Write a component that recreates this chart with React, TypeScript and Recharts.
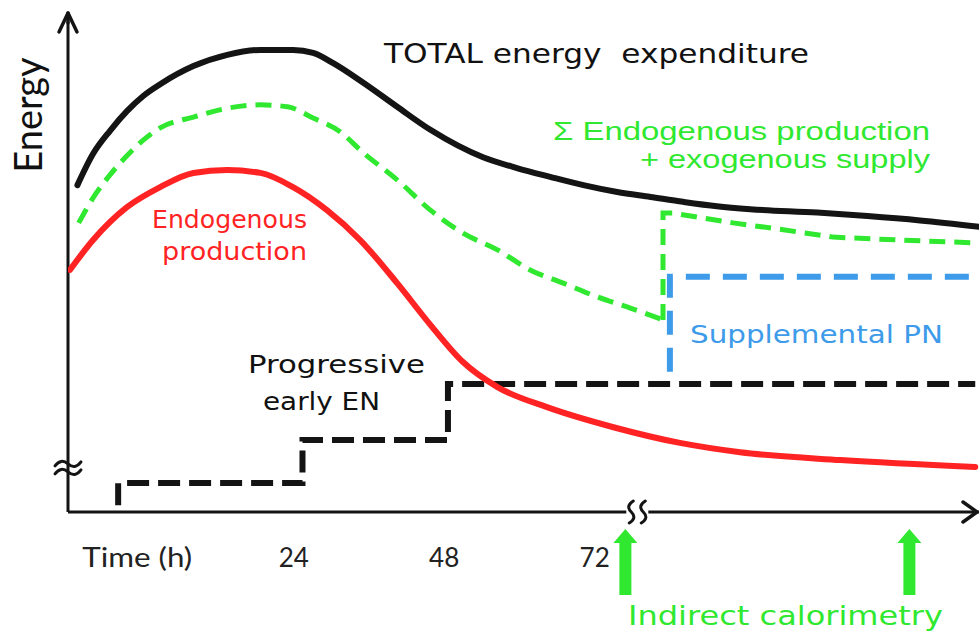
import React from 'react';
import { LineChart, Line, XAxis, YAxis, ReferenceDot, ReferenceLine } from 'recharts';

// Time axis (hours, conceptual) and energy (arbitrary units)
const tickValues = [0, 24, 48, 72];
const tickLabels = ['Time (h)', '24', '48', '72'];

const totalExpenditure = [
  { t: -10.5, e: 66.7 }, { t: -8.0, e: 73.1 }, { t: -5.3, e: 77.8 }, { t: -2.6, e: 81.8 },
  { t: 0.0, e: 84.9 }, { t: 2.7, e: 87.3 }, { t: 8.0, e: 91.0 }, { t: 13.4, e: 93.3 },
  { t: 18.7, e: 94.3 }, { t: 23.9, e: 94.3 }, { t: 27.1, e: 93.7 }, { t: 30.3, e: 91.6 },
  { t: 35.1, e: 87.6 }, { t: 40.5, e: 82.7 }, { t: 45.8, e: 78.0 }, { t: 54.2, e: 72.4 },
  { t: 59.6, e: 70.2 }, { t: 64.9, e: 68.4 }, { t: 70.2, e: 66.7 }, { t: 75.6, e: 65.3 },
  { t: 80.9, e: 64.3 }, { t: 86.1, e: 63.3 }, { t: 91.5, e: 62.4 }, { t: 96.8, e: 61.8 },
  { t: 107.5, e: 61.1 }, { t: 115.5, e: 60.4 }, { t: 123.9, e: 59.5 }, { t: 133.3, e: 58.2 },
];

const sumBeforePN = [
  { t: -10.3, e: 59.0 }, { t: -8.0, e: 64.1 }, { t: -5.3, e: 68.8 }, { t: -2.6, e: 72.7 },
  { t: 0.0, e: 75.9 }, { t: 2.7, e: 78.4 }, { t: 8.0, e: 80.6 }, { t: 13.4, e: 82.4 },
  { t: 18.7, e: 83.1 }, { t: 23.0, e: 82.7 }, { t: 27.1, e: 80.4 }, { t: 31.4, e: 77.6 },
  { t: 35.1, e: 73.3 }, { t: 40.5, e: 67.8 }, { t: 45.8, e: 61.6 }, { t: 51.0, e: 56.9 },
  { t: 56.5, e: 53.5 }, { t: 61.7, e: 49.4 }, { t: 67.0, e: 46.7 }, { t: 72.4, e: 43.9 },
  { t: 77.7, e: 41.6 }, { t: 82.9, e: 39.2 },
];

const sumWithPN = [
  { t: 82.9, e: 39.2 }, { t: 82.9, e: 61.0 }, { t: 84.5, e: 61.0 }, { t: 94.1, e: 59.0 },
  { t: 102.1, e: 57.6 }, { t: 110.0, e: 56.1 }, { t: 120.7, e: 55.5 }, { t: 133.3, e: 54.9 },
];

const endogenous = [
  { t: -11.7, e: 49.4 }, { t: -8.0, e: 55.5 }, { t: -2.6, e: 62.2 }, { t: 2.7, e: 66.3 },
  { t: 8.0, e: 69.2 }, { t: 13.4, e: 69.8 }, { t: 18.7, e: 69.2 }, { t: 23.9, e: 66.3 },
  { t: 29.3, e: 61.6 }, { t: 34.6, e: 55.5 }, { t: 40.5, e: 46.7 }, { t: 45.8, e: 38.2 },
  { t: 51.0, e: 30.6 }, { t: 56.5, e: 25.5 }, { t: 64.4, e: 21.4 }, { t: 75.0, e: 17.3 },
  { t: 85.6, e: 14.1 }, { t: 95.2, e: 12.2 }, { t: 111.2, e: 10.6 }, { t: 132.7, e: 9.2 },
];

const earlyEN = [
  { t: -4.0, e: 1.4 }, { t: -4.0, e: 5.9 }, { t: 25.4, e: 5.9 }, { t: 25.4, e: 14.7 },
  { t: 48.6, e: 14.7 }, { t: 48.6, e: 26.1 }, { t: 132.7, e: 26.1 },
];

const supplementalPN = [
  { t: 84.0, e: 28.6 }, { t: 84.0, e: 48.0 }, { t: 133.3, e: 48.0 },
];

const calorimetryTimes = [76.9, 122.2];
const timeBreak = 78.8;
const energyBreak = 9.0;

const X_DOMAIN: [number, number] = [-12, 133.3];
const Y_DOMAIN: [number, number] = [0, 100];

const GREEN = '#2fe82f';
const RED = '#ff2323';
const BLUE = '#3d9be9';
const BLACK = '#141414';
const COMIC = '"DejaVu Sans", sans-serif';
const SANS = '"Liberation Sans", Arial, sans-serif';
const HUMAN = 'Lato, "Open Sans", sans-serif';

const XTick = (props: any) => {
  const { x, y, payload } = props;
  const i = tickValues.indexOf(payload.value);
  const label = i >= 0 ? tickLabels[i] : String(payload.value);
  const wide = label.length > 3;
  return (
    <text
      x={wide ? x - 6 : x}
      y={y + 55}
      textAnchor="middle"
      fontSize={26}
      fontFamily={HUMAN}
      fill="#222"
      textLength={wide ? 110 : undefined}
      lengthAdjust="spacingAndGlyphs"
    >
      {label}
    </text>
  );
};

const ArrowUpShape = (props: any) => {
  const { cx, cy } = props;
  return (
    <g>
      <rect x={cx - 6} y={cy + 30} width={12} height={53} fill={GREEN} />
      <polygon points={`${cx - 12},${cy + 31} ${cx + 12},${cy + 31} ${cx},${cy + 17}`} fill={GREEN} />
    </g>
  );
};

const YArrowShape = (props: any) => {
  const { cx, cy } = props;
  return (
    <g fill="none" stroke={BLACK} strokeWidth={3.5} strokeLinecap="round" strokeLinejoin="round">
      <line x1={cx} y1={cy + 1} x2={cx} y2={cy - 9} />
      <polyline points={`${cx - 9},${cy + 10} ${cx},${cy - 9} ${cx + 9},${cy + 10}`} />
    </g>
  );
};

const XArrowShape = (props: any) => {
  const { cx, cy } = props;
  return (
    <g fill="none" stroke={BLACK} strokeWidth={3.5} strokeLinecap="round" strokeLinejoin="round">
      <polyline points={`${cx - 16},${cy - 10} ${cx - 2},${cy} ${cx - 16},${cy + 10}`} />
    </g>
  );
};

const XBreakShape = (props: any) => {
  const { cx, cy } = props;
  const s = (x: number) =>
    `M ${x + 2} ${cy - 11} Q ${x - 6} ${cy - 6} ${x} ${cy} Q ${x + 6} ${cy + 6} ${x - 2} ${cy + 11}`;
  return (
    <g>
      <rect x={cx - 11} y={cy - 4} width={22} height={8} fill="#fff" />
      <path d={s(cx - 6)} fill="none" stroke={BLACK} strokeWidth={3} strokeLinecap="round" />
      <path d={s(cx + 6)} fill="none" stroke={BLACK} strokeWidth={3} strokeLinecap="round" />
    </g>
  );
};

const YBreakShape = (props: any) => {
  const { cx, cy } = props;
  const t = (y: number) =>
    `M ${cx - 13} ${y + 2} Q ${cx - 7} ${y - 6} ${cx} ${y} Q ${cx + 7} ${y + 6} ${cx + 13} ${y - 2}`;
  return (
    <g>
      <path d={t(cy - 4)} fill="none" stroke={BLACK} strokeWidth={3} strokeLinecap="round" />
      <path d={t(cy + 4)} fill="none" stroke={BLACK} strokeWidth={3} strokeLinecap="round" />
    </g>
  );
};

const Label = (p: {
  x: number; y: number; w: number; size: number; fill: string; font: string;
  anchor?: 'start' | 'end' | 'middle'; children: string;
}) => (
  <text
    x={p.x}
    y={p.y}
    fontSize={p.size}
    fill={p.fill}
    fontFamily={p.font}
    textAnchor={p.anchor || 'start'}
    textLength={p.w}
    lengthAdjust="spacingAndGlyphs"
    style={{ whiteSpace: 'pre' }}
  >
    {p.children}
  </text>
);

export default function App() {
  return (
    <div style={{ position: 'absolute', left: 0, top: 0, width: 979, height: 635, background: '#fff' }}>
      <LineChart width={979} height={635} margin={{ top: 22, right: 0, bottom: 63, left: 68 }}>
        <XAxis
          dataKey="t"
          type="number"
          domain={X_DOMAIN}
          allowDataOverflow
          ticks={tickValues}
          interval={0}
          tick={<XTick />}
          tickLine={false}
          tickSize={0}
          tickMargin={0}
          height={60}
          axisLine={{ stroke: BLACK, strokeWidth: 3 }}
        />
        <YAxis type="number" domain={Y_DOMAIN} allowDataOverflow width={0} hide />
        <ReferenceLine x={X_DOMAIN[0]} stroke={BLACK} strokeWidth={3} ifOverflow="visible" />
        <Line data={earlyEN} dataKey="e" type="linear" stroke={BLACK} strokeWidth={6}
          strokeDasharray="22 9" dot={false} isAnimationActive={false} />
        <Line data={supplementalPN} dataKey="e" type="linear" stroke={BLUE} strokeWidth={6}
          strokeDasharray="24 13" dot={false} isAnimationActive={false} />
        <Line data={endogenous} dataKey="e" type="monotone" stroke={RED} strokeWidth={6}
          dot={false} isAnimationActive={false} strokeLinecap="round" />
        <Line data={sumBeforePN} dataKey="e" type="monotone" stroke={GREEN} strokeWidth={5}
          strokeDasharray="16 9" dot={false} isAnimationActive={false} />
        <Line data={sumWithPN} dataKey="e" type="linear" stroke={GREEN} strokeWidth={5}
          strokeDasharray="16 9" dot={false} isAnimationActive={false} />
        <Line data={totalExpenditure} dataKey="e" type="monotone" stroke={BLACK} strokeWidth={6}
          dot={false} isAnimationActive={false} strokeLinecap="round" />
        <ReferenceDot x={X_DOMAIN[0]} y={Y_DOMAIN[1]} ifOverflow="visible" shape={<YArrowShape />} />
        <ReferenceDot x={X_DOMAIN[1]} y={Y_DOMAIN[0]} ifOverflow="visible" shape={<XArrowShape />} />
        <ReferenceDot x={timeBreak} y={Y_DOMAIN[0]} ifOverflow="visible" shape={<XBreakShape />} />
        <ReferenceDot x={X_DOMAIN[0]} y={energyBreak} ifOverflow="visible" shape={<YBreakShape />} />
        {calorimetryTimes.map((t) => (
          <ReferenceDot key={t} x={t} y={Y_DOMAIN[0]} ifOverflow="visible" shape={<ArrowUpShape />} />
        ))}
      </LineChart>
      <svg width={979} height={635} style={{ position: 'absolute', left: 0, top: 0, pointerEvents: 'none' }}>
        <text x={42} y={115} fontSize={38} fontFamily={HUMAN} fill="#111" textAnchor="middle"
          transform="rotate(-90 42 115)">Energy</text>
        <Label x={384} y={63} w={425} size={27} fill="#111" font={COMIC}>{'TOTAL energy  expenditure'}</Label>
        <Label x={930} y={140} w={377} size={26} fill={GREEN} font={SANS} anchor="end">{'Σ Endogenous production'}</Label>
        <Label x={930} y={168} w={290} size={26} fill={GREEN} font={SANS} anchor="end">{'+ exogenous supply'}</Label>
        <Label x={152} y={228} w={155} size={25} fill={RED} font={COMIC}>Endogenous</Label>
        <Label x={162} y={260} w={145} size={25} fill={RED} font={COMIC}>production</Label>
        <Label x={248} y={373} w={177} size={25} fill="#111" font={COMIC}>Progressive</Label>
        <Label x={263} y={410} w={117} size={25} fill="#111" font={COMIC}>early EN</Label>
        <Label x={690} y={343} w={253} size={25} fill={BLUE} font={COMIC}>Supplemental PN</Label>
        <Label x={628} y={625} w={315} size={27} fill={GREEN} font={COMIC}>Indirect calorimetry</Label>
      </svg>
    </div>
  );
}
